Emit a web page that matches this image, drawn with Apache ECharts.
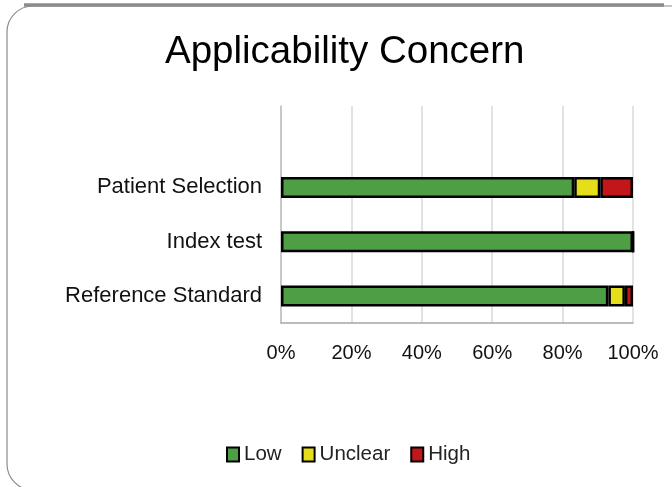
<!DOCTYPE html>
<html>
<head>
<meta charset="utf-8">
<script src="https://cdn.jsdelivr.net/npm/echarts@6/dist/echarts.min.js"></script>
<style>
  html, body { margin: 0; padding: 0; background: #fff; }
  #chart { width: 672px; height: 487px; }
</style>
</head>
<body>
<div id="chart"></div>
<script>
var categories = ['Patient Selection', 'Index test', 'Reference Standard'];
var low = [83.3, 100, 93.0];
var unclear = [7.4, 0, 4.7];
var high = [9.3, 0, 2.3];
var xTicks = [0, 20, 40, 60, 80, 100];

var font = '"Liberation Sans", Arial, sans-serif';
var mychart = echarts.init(document.getElementById('chart'));

function seriesOf(name, values, color) {
    return {
        name: name,
        type: 'bar',
        stack: 'total',
        barWidth: 21,
        data: ['-'].concat(values),
        itemStyle: { color: color, borderColor: '#000', borderWidth: 2.5 }
    };
}

mychart.setOption({
    animation: false,
    textStyle: { fontFamily: font },
    title: {
        text: 'Applicability Concern',
        left: 160,
        top: 28,
        textStyle: { fontFamily: font, fontSize: 38.5, fontWeight: 'normal', color: '#000' }
    },
    legend: {
        bottom: 17,
        left: 221,
        icon: 'rect',
        itemWidth: 12,
        itemHeight: 14,
        itemGap: 20,
        textStyle: { fontFamily: font, fontSize: 20.5, color: '#222' },
        data: ['Low', 'Unclear', 'High']
    },
    grid: { left: 281, right: 39, top: 106, bottom: 164, containLabel: false },
    xAxis: {
        type: 'value',
        min: xTicks[0],
        max: xTicks[xTicks.length - 1],
        interval: 20,
        axisLine: { show: true, lineStyle: { color: '#a6a6a6', width: 1.5 } },
        axisTick: { show: false },
        axisLabel: {
            margin: 20,
            fontFamily: font,
            fontSize: 20,
            color: '#111',
            formatter: '{value}%'
        },
        splitLine: { show: true, lineStyle: { color: '#d9d9d9', width: 1.5 } }
    },
    yAxis: {
        type: 'category',
        inverse: true,
        data: [''].concat(categories),
        axisLine: { show: true, lineStyle: { color: '#bfbfbf', width: 1.5 } },
        axisTick: { show: false },
        axisLabel: { margin: 19, fontFamily: font, fontSize: 22, color: '#111' }
    },
    graphic: [
        {
            type: 'rect',
            shape: { x: 7, y: 6, width: 700, height: 484, r: 26 },
            style: { fill: 'none', stroke: '#8c8c8c', lineWidth: 1.2 },
            silent: true
        },
        {
            type: 'line',
            shape: { x1: 24, y1: 5, x2: 664, y2: 5 },
            style: { stroke: '#8c8c8c', lineWidth: 3.5 },
            silent: true
        }
    ],
    series: [
        seriesOf('Low', low, '#4d9e45'),
        seriesOf('Unclear', unclear, '#e6de1a'),
        seriesOf('High', high, '#c2171a')
    ]
});
</script>
</body>
</html>
